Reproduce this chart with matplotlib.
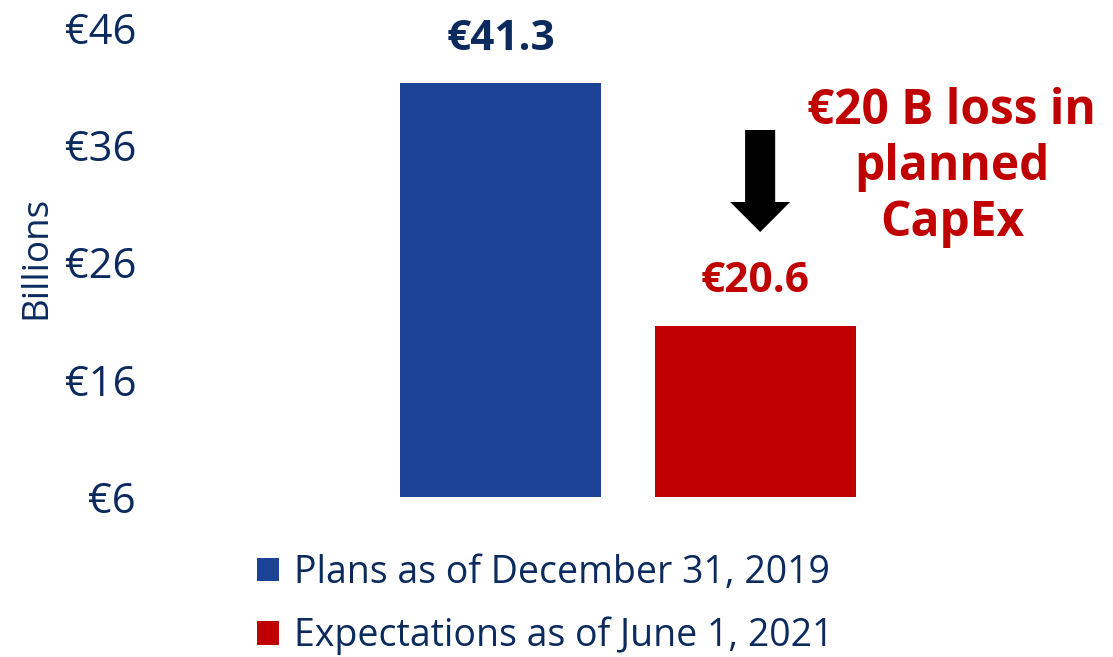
import matplotlib.pyplot as plt
from matplotlib.patches import FancyArrow

plt.rcParams['font.family'] = ['Open Sans', 'DejaVu Sans']

# Data
series = ['Plans as of December 31, 2019', 'Expectations as of June 1, 2021']
values = [41.3, 20.6]
value_labels = ['€41.3', '€20.6']
bar_colors = ['#1D4397', '#C00000']
label_colors = ['#0B2A5E', '#C00000']
yticks = [6, 16, 26, 36, 46]
ytick_labels = ['€6', '€16', '€26', '€36', '€46']
note = '€20 B loss in\nplanned\nCapEx'

navy = '#0B2A5E'
red = '#C00000'

fig = plt.figure(figsize=(11.13, 6.57), dpi=100)
ax = fig.add_axes([150 / 1113, 1 - 497 / 657, 950 / 1113, 469 / 657])

x = [0, 1]
bars = ax.bar(x, [v - 6 for v in values], bottom=6, width=0.79, color=bar_colors, label=series)

ax.set_xlim(-1.375, 2.351)
ax.set_ylim(6, 46)
ax.set_yticks(yticks)
ax.set_yticklabels(ytick_labels, fontsize=30, color=navy)
ax.tick_params(axis='y', length=0, pad=10)
ax.set_xticks([])
for s in ax.spines.values():
    s.set_visible(False)

ax.set_ylabel('Billions', fontsize=26.5, color=navy)
ax.yaxis.set_label_coords(-0.101, 0.51)

# value labels
for xi, v, lab, c in zip(x, values, value_labels, label_colors):
    ax.text(xi, v + 2.0, lab, ha='center', va='bottom', fontsize=30.5, fontweight='bold', color=c)

# arrow
arr = FancyArrow(1.018, 37.3, 0, -8.7, width=0.118, head_width=0.235, head_length=2.56,
                 length_includes_head=True, color='black', lw=0)
ax.add_patch(arr)

ax.text(1.77, 34.1, note, ha='center', va='center', fontsize=34.5, fontweight='bold',
        color=red, linespacing=1.2)

leg = fig.legend(handles=bars.patches, labels=series, loc='upper left',
                 bbox_to_anchor=(257 / 1113, 1 - 554 / 657), frameon=False,
                 fontsize=27, handlelength=0.58, handleheight=0.58, handletextpad=0.4,
                 labelspacing=0.66, borderpad=0, borderaxespad=0)
for t in leg.get_texts():
    t.set_color(navy)

fig.savefig('out.png', dpi=100)
